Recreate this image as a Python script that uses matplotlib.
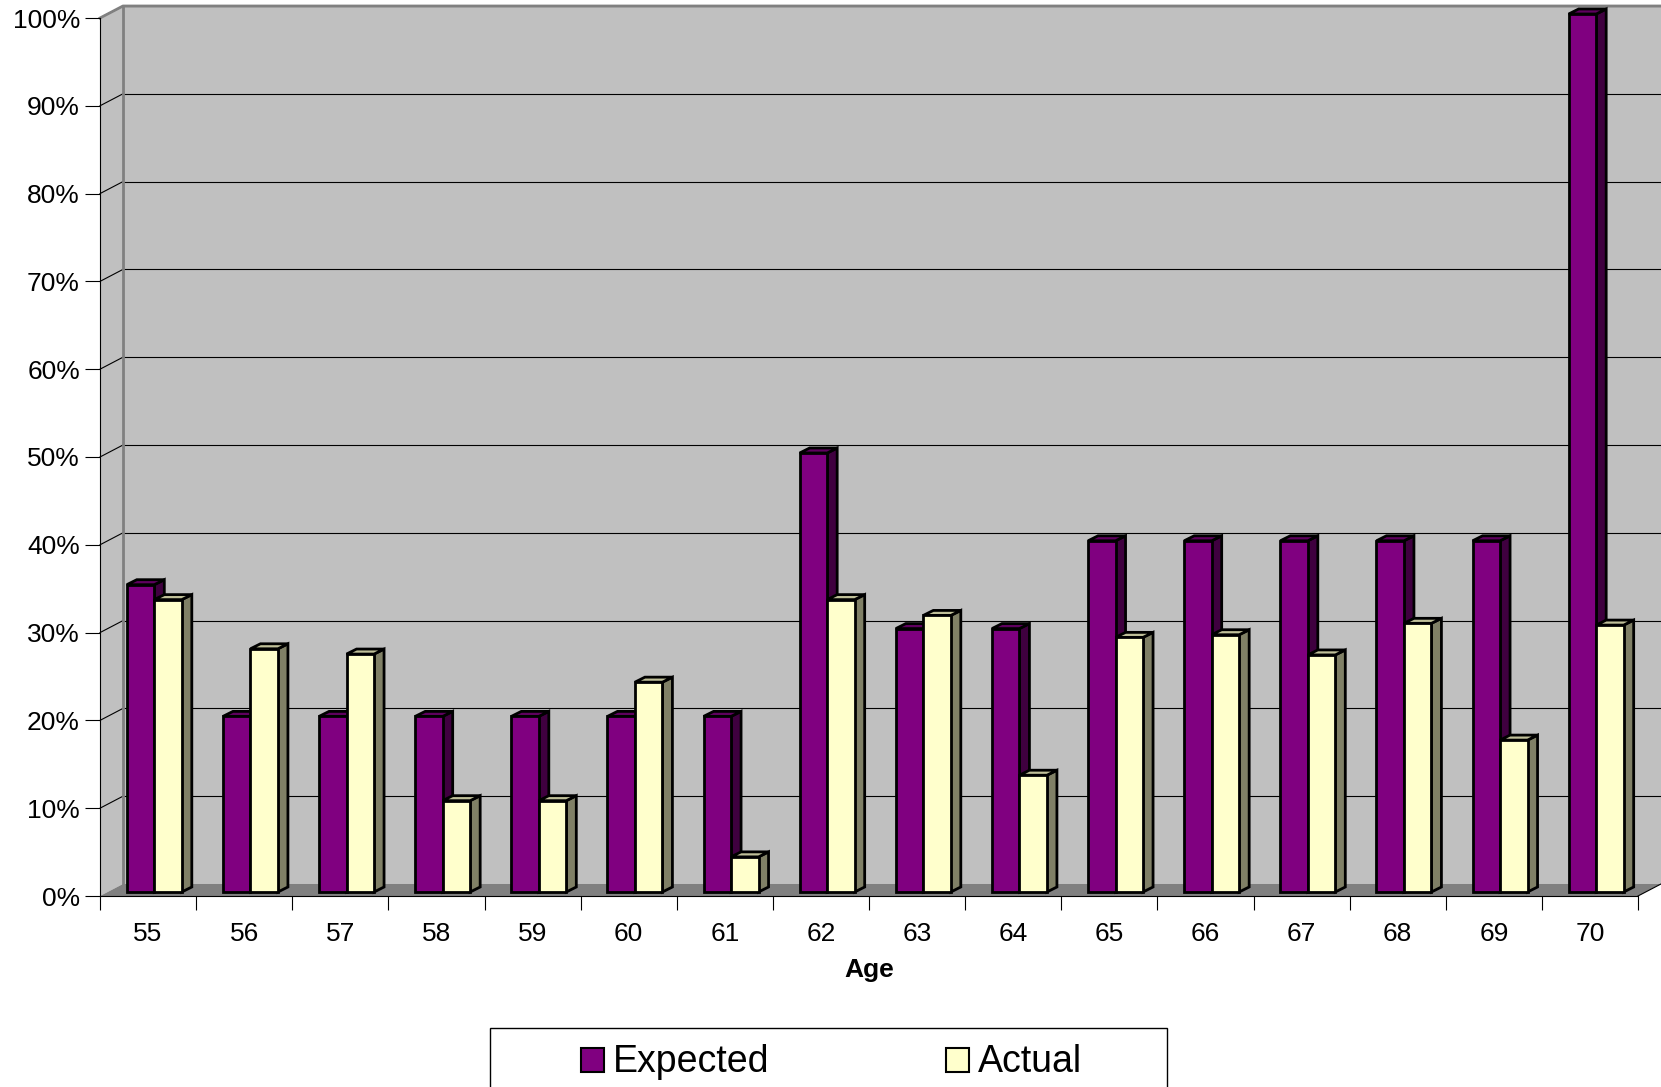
import matplotlib.pyplot as plt
from matplotlib.patches import Polygon, Rectangle

plt.rcParams['font.family'] = ['Liberation Sans', 'DejaVu Sans']

ages = [str(a) for a in range(55, 71)]
expected = [35, 20, 20, 20, 20, 20, 20, 50, 30, 30, 40, 40, 40, 40, 40, 100]
actual = [33.3, 27.7, 27.1, 10.4, 10.4, 23.9, 4.0, 33.3, 31.5, 13.3, 29.0, 29.3, 27.0, 30.6, 17.3, 30.4]
series = [('Expected', expected, '#800080', '#3f003f', '#5f005f'),
          ('Actual', actual, '#ffffcc', '#808066', '#c0c099')]

W, H = 1661, 1087
fig = plt.figure(figsize=(W / 100, H / 100), dpi=100)
fig.patch.set_facecolor('white')

# front plane of the 3-D box: categories 0..16 across, 0..100 % up
ax = fig.add_axes([100 / W, (H - 896) / H, 1538 / W, 878 / H])
ax.set_xlim(0, 16)
ax.set_ylim(0, 100)
ax.patch.set_visible(False)

n = len(ages)
DX, DY = 0.239, 1.367          # depth of the walls
bx0, by0 = 0.065, 0.456        # where the bars sit in depth
ddx, ddy = 0.104, 0.57         # depth of a bar
bw = 0.286                     # bar width

# walls and floor
ax.add_patch(Polygon([(0, 0), (0, 100), (DX, 100 + DY), (DX, DY)], closed=True,
                     facecolor='#c0c0c0', edgecolor='none', zorder=0, clip_on=False))
ax.add_patch(Rectangle((DX, DY), n, 100, facecolor='#c0c0c0', edgecolor='none',
                       zorder=0, clip_on=False))
ax.add_patch(Polygon([(0, 0), (n, 0), (n + DX, DY), (DX, DY)], closed=True,
                     facecolor='#808080', edgecolor='none', zorder=0.5, clip_on=False))

for v in range(10, 101, 10):
    ax.plot([0, DX], [v, v + DY], color='black', lw=0.8, zorder=0.6, clip_on=False)
    ax.plot([DX, n + DX], [v + DY, v + DY], color='black', lw=0.8, zorder=0.6, clip_on=False)

# wall borders
ax.plot([DX, DX], [DY, 100 + DY], color='#808080', lw=2, zorder=0.7, clip_on=False)
ax.plot([0, DX, n + DX], [100, 100 + DY, 100 + DY], color='#808080', lw=2, zorder=0.7,
        clip_on=False)
ax.plot([n, n + DX], [0, DY], color='black', lw=0.8, zorder=0.7, clip_on=False)

# bars: front face via ax.bar, then top and side faces
z = 1
for i in range(n):
    for s, (name, vals, front, side, top) in enumerate(series):
        x0 = i + 0.5 + bx0 - bw + s * bw
        v = vals[i]
        ax.bar(x0, v, width=bw, bottom=by0, align='edge', color=front,
               edgecolor='black', linewidth=2, zorder=z + 0.2, clip_on=False)
        yt = by0 + v
        ax.add_patch(Polygon([(x0 + bw, by0), (x0 + bw, yt), (x0 + bw + ddx, yt + ddy),
                              (x0 + bw + ddx, by0 + ddy)], closed=True, facecolor=side,
                             edgecolor='black', linewidth=2, zorder=z, clip_on=False))
        ax.add_patch(Polygon([(x0, yt), (x0 + bw, yt), (x0 + bw + ddx, yt + ddy),
                              (x0 + ddx, yt + ddy)], closed=True, facecolor=top,
                             edgecolor='black', linewidth=2, zorder=z + 0.1, clip_on=False))
        z += 1

# axes, ticks, labels
for sp in ['top', 'right']:
    ax.spines[sp].set_visible(False)
for sp in ['left', 'bottom']:
    ax.spines[sp].set_color('black')
    ax.spines[sp].set_linewidth(0.8)
    ax.spines[sp].set_zorder(0.8)

ax.set_yticks(range(0, 101, 10), labels=[f'{v}%' for v in range(0, 101, 10)])
ax.tick_params(axis='y', length=10.8, width=0.8, pad=3.6, labelsize=19)
ax.set_xticks(range(0, n + 1), labels=[''] * (n + 1))
ax.tick_params(axis='x', which='major', length=10, width=0.8)
ax.set_xticks([i + 0.5 for i in range(n)], labels=ages, minor=True)
ax.tick_params(axis='x', which='minor', length=0, pad=18.5, labelsize=19)
ax.set_xlabel('Age', fontsize=19, fontweight='bold', labelpad=9)

# legend box
lax = fig.add_axes([0, 0, 1, 1])
lax.set_xlim(0, W)
lax.set_ylim(H, 0)
lax.axis('off')
lax.add_patch(Rectangle((490, 1027.5), 677, 80, facecolor='white', edgecolor='black',
                        linewidth=1, clip_on=False))
for (name, vals, front, side, top), xs, xt in zip(series, [581, 946], [613, 978]):
    lax.add_patch(Rectangle((xs, 1048), 23, 24, facecolor=front, edgecolor='black',
                            linewidth=1.5))
    lax.text(xt, 1062, name, fontsize=27, va='center', ha='left')

fig.savefig('out.png', dpi=100)
